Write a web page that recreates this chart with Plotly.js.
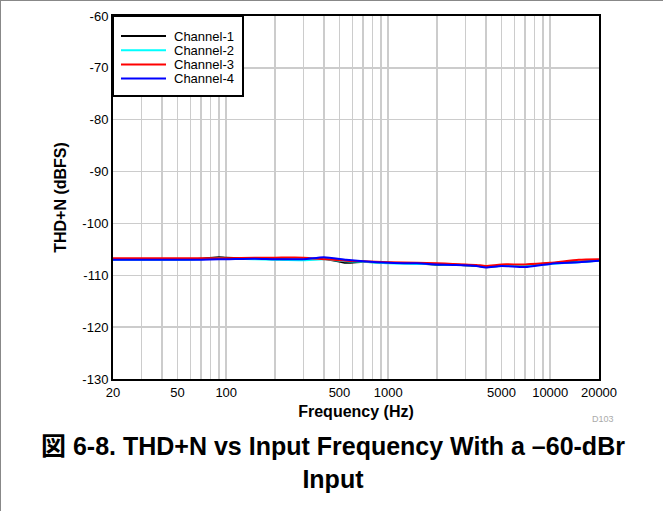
<!DOCTYPE html>
<html>
<head>
<meta charset="utf-8">
<script src="https://cdn.plot.ly/plotly-3.0.1.min.js"></script>
<style>
html,body{margin:0;padding:0;background:#fff;}
#wrap{width:662px;height:510px;border-top:1px solid #888;border-left:1px solid #888;}
#chart{width:662px;height:510px;}
</style>
</head>
<body>
<div id="wrap"><div id="chart"></div></div>
<script>
// Data
const freqs = [20, 30, 50, 70, 90, 100, 150, 200, 300, 400, 550, 700, 1000, 1500, 2000, 2500, 3500, 4000, 5000, 7000, 10000, 15000, 20000];
const ch1 = [-106.9, -106.9, -106.9, -106.8, -106.5, -106.6, -106.8, -106.9, -107.0, -106.8, -107.6, -107.4, -107.6, -107.7, -108.0, -107.9, -108.2, -108.3, -108.2, -108.0, -107.7, -107.4, -107.2];
const ch2 = [-107.0, -107.0, -107.0, -106.9, -106.7, -106.8, -106.9, -107.0, -107.1, -106.9, -107.3, -107.4, -107.7, -107.8, -107.9, -108.0, -108.1, -108.3, -108.2, -108.2, -107.8, -107.5, -107.2];
const ch3 = [-106.7, -106.7, -106.7, -106.7, -106.7, -106.7, -106.6, -106.6, -106.6, -106.9, -107.2, -107.3, -107.5, -107.6, -107.7, -107.8, -108.0, -108.2, -107.9, -107.9, -107.6, -107.0, -106.9];
const ch4 = [-107.0, -107.0, -107.0, -107.0, -106.9, -106.9, -106.8, -106.9, -106.9, -106.5, -107.0, -107.3, -107.6, -107.7, -107.9, -108.0, -108.2, -108.5, -108.2, -108.4, -107.8, -107.5, -107.2];
const seriesNames = ['Channel-1', 'Channel-2', 'Channel-3', 'Channel-4'];
const seriesColors = ['#000000', '#00FFFF', '#FF0000', '#0000FF'];
const xGridVals = [20,30,40,50,60,70,80,90,100,200,300,400,500,600,700,800,900,1000,2000,3000,4000,5000,6000,7000,8000,9000,10000,20000];
const xLabelVals = [20,50,100,500,1000,5000,10000,20000];
const yTickVals = [-130,-120,-110,-100,-90,-80,-70,-60];

const xTickText = xGridVals.map(v => xLabelVals.includes(v) ? String(v) : '');
const yTickText = yTickVals.map(v => String(v));
const font = 'Liberation Sans, Arial, Helvetica, sans-serif';
const series = [ch1, ch2, ch3, ch4];
const traces = series.map((s, i) => ({
  x: freqs, y: s, type: 'scatter', mode: 'lines', name: seriesNames[i],
  line: {color: seriesColors[i], width: 2, shape: 'spline', smoothing: 0.6}
}));

// Manual legend (paper coordinates; plot area is 486 x 363 px)
const PW = 486, PH = 363;
const px = v => v / PW;
const py = v => 1 - v / PH;
const shapes = [{type: 'rect', xref: 'paper', yref: 'paper', x0: 0, x1: px(130), y0: py(80), y1: 1,
                 fillcolor: '#fff', line: {color: '#000', width: 2}, layer: 'above'}];
const annotations = [];
seriesNames.forEach((n, i) => {
  const yy = py(20 + i * 14.2);
  shapes.push({type: 'line', xref: 'paper', yref: 'paper', x0: px(8), x1: px(53), y0: yy, y1: yy,
               line: {color: seriesColors[i], width: 2}, layer: 'above'});
  annotations.push({text: n, xref: 'paper', yref: 'paper', x: px(59), y: yy, xanchor: 'left', yanchor: 'middle',
                    showarrow: false, font: {family: font, size: 13, color: '#000'}});
});
annotations.push({text: 'D103', xref: 'paper', yref: 'paper', x: px(490), y: py(403), xanchor: 'center', yanchor: 'middle',
     showarrow: false, font: {family: font, size: 9, color: '#aaaaaa'}});
annotations.push({text: '<b>図 6-8. THD+N vs Input Frequency With a –60-dBr<br>Input</b>', xref: 'paper', yref: 'paper',
     x: px(220), y: py(447), xanchor: 'center', yanchor: 'middle', showarrow: false, align: 'center',
     font: {family: 'Liberation Sans, Arial, Noto Sans CJK JP, sans-serif', size: 25, color: '#000'}});

const layout = {
  width: 662, height: 510,
  margin: {l: 112, r: 64, t: 15, b: 132},
  paper_bgcolor: '#fff', plot_bgcolor: '#fff',
  font: {family: font, size: 13, color: '#000'},
  showlegend: false,
  xaxis: {
    type: 'log', range: [Math.log10(20), Math.log10(20000)],
    tickmode: 'array', tickvals: xGridVals, ticktext: xTickText,
    showgrid: true, gridcolor: '#cccccc', gridwidth: 1.5,
    showline: true, mirror: true, linecolor: '#000', linewidth: 2,
    ticks: '', zeroline: false, tickfont: {family: font, size: 13},
    title: {text: 'Frequency (Hz)', font: {family: font, size: 16, weight: 'bold'}, standoff: 7}
  },
  yaxis: {
    range: [-130, -60], tickmode: 'array', tickvals: yTickVals, ticktext: yTickText,
    showgrid: true, gridcolor: '#cccccc', gridwidth: 1.5,
    showline: true, mirror: true, linecolor: '#000', linewidth: 2,
    ticks: '', zeroline: false, tickfont: {family: font, size: 13},
    title: {text: 'THD+N (dBFS)', font: {family: font, size: 16, weight: 'bold'}, standoff: 12}
  },
  shapes: shapes,
  annotations: annotations
};

Plotly.newPlot('chart', traces, layout, {displayModeBar: false, staticPlot: true});
</script>
</body>
</html>
